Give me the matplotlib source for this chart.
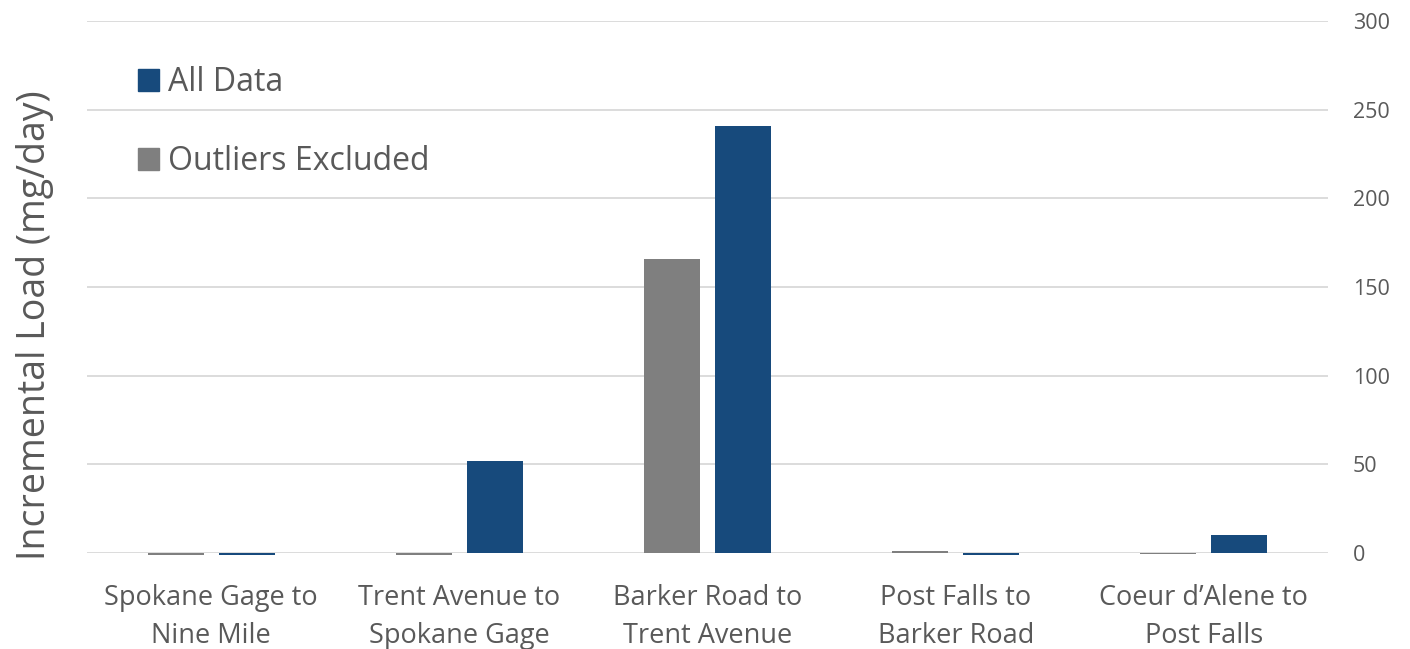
import numpy as np
import matplotlib
matplotlib.use('Agg')
from matplotlib import pyplot as plt
from matplotlib.patches import Patch

plt.rcParams['font.family'] = ['Open Sans', 'DejaVu Sans']

reaches = ['Spokane Gage to\nNine Mile', 'Trent Avenue to\nSpokane Gage',
           'Barker Road to\nTrent Avenue', 'Post Falls to\nBarker Road',
           'Coeur d\u2019Alene to\nPost Falls']
outliers_excluded = [-1.0, -1.0, 165.6, 1.0, -0.4]
all_data = [-1.0, 51.9, 240.8, -1.0, 10.2]

blue = '#174A7C'
grey = '#7F7F7F'
txt = '#595959'

fig = plt.figure(figsize=(14.1, 6.49), dpi=100)
ax = fig.add_axes([87/1410, 96/649, 1241/1410, 532/649])

x = np.arange(len(reaches))
w = 0.226
ax.bar(x - 0.143, outliers_excluded, w, color=grey, clip_on=False, zorder=3)
ax.bar(x + 0.143, all_data, w, color=blue, clip_on=False, zorder=3)

ax.set_xlim(-0.5, len(reaches) - 0.5)
ax.set_ylim(0, 300)
ax.set_yticks(range(0, 301, 50))
ax.yaxis.tick_right()
ax.grid(axis='y', color='#D9D9D9', lw=1.3, zorder=0)
ax.set_axisbelow(True)
for s in ax.spines.values():
    s.set_visible(False)
ax.tick_params(axis='y', length=0, pad=18, labelsize=15.5, labelcolor=txt)
ax.set_xticks(x)
ax.set_xticklabels(reaches, fontsize=19.5, color=txt, linespacing=1.5)
ax.tick_params(axis='x', length=0, pad=22)

fig.text(35/1410, 1 - 325/649, 'Incremental Load (mg/day)', rotation=90,
         ha='center', va='center', fontsize=27, color=txt)

handles = [Patch(color=blue, label='All Data'),
           Patch(color=grey, label='Outliers Excluded')]
ax.legend(handles=handles, loc='upper left', bbox_to_anchor=(0.018, 0.969),
          frameon=False, fontsize=23, labelcolor=txt, handlelength=0.65,
          handleheight=0.65, handletextpad=0.3, labelspacing=1.44)

plt.savefig('out.png')
